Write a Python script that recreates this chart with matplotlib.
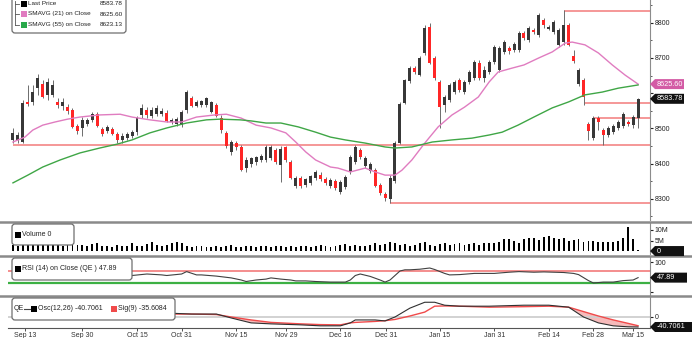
import numpy as np
import matplotlib
matplotlib.use("Agg")
import matplotlib.pyplot as plt
from matplotlib.patches import FancyBboxPatch, Rectangle, Polygon
from matplotlib.lines import Line2D
from matplotlib.transforms import IdentityTransform
from matplotlib.ticker import MultipleLocator

plt.rcParams['font.family'] = ['Liberation Sans', 'DejaVu Sans']

W, H = 692, 338

# daily candles, Sep 13 .. Mar 15
opens = [8467, 8467, 8461, 8575, 8575, 8614, 8626, 8595, 8595, 8575,
         8563, 8560, 8552, 8506, 8501, 8512, 8524, 8540, 8498, 8492,
         8498, 8484, 8467, 8472, 8478, 8489, 8538, 8552, 8535, 8540,
         8540, 8543, 8518, 8512, 8509, 8552, 8586, 8563, 8566, 8566,
         8546, 8566, 8529, 8487, 8433, 8458, 8447, 8387, 8398, 8404,
         8410, 8410, 8415, 8438, 8395, 8447, 8404, 8336, 8359, 8339,
         8344, 8359, 8367, 8356, 8336, 8350, 8319, 8333, 8376, 8404,
         8438, 8393, 8378, 8381, 8339, 8313, 8299, 8350, 8458, 8572,
         8634, 8671, 8651, 8714, 8788, 8700, 8632, 8566, 8580, 8603,
         8637, 8603, 8632, 8643, 8686, 8643, 8660, 8688, 8666, 8717,
         8728, 8722, 8722, 8771, 8751, 8779, 8765, 8808, 8782, 8774,
         8737, 8745, 8793, 8705, 8626, 8637, 8512, 8472, 8529, 8495,
         8481, 8489, 8501, 8506, 8518, 8509, 8529]
highs = [8501, 8489, 8580, 8623, 8623, 8654, 8637, 8643, 8637, 8586,
         8586, 8569, 8558, 8512, 8532, 8529, 8546, 8546, 8504, 8509,
         8504, 8489, 8487, 8489, 8495, 8535, 8569, 8560, 8560, 8566,
         8558, 8552, 8529, 8532, 8552, 8609, 8592, 8580, 8580, 8589,
         8578, 8572, 8538, 8492, 8467, 8464, 8452, 8418, 8418, 8421,
         8427, 8452, 8452, 8444, 8450, 8450, 8410, 8364, 8364, 8359,
         8367, 8381, 8376, 8361, 8359, 8356, 8353, 8367, 8424, 8452,
         8444, 8421, 8404, 8387, 8344, 8319, 8367, 8464, 8575, 8640,
         8677, 8677, 8705, 8793, 8799, 8705, 8637, 8595, 8629, 8637,
         8643, 8637, 8666, 8694, 8694, 8677, 8694, 8737, 8734, 8751,
         8734, 8745, 8777, 8777, 8791, 8785, 8828, 8814, 8793, 8808,
         8785, 8836, 8799, 8722, 8671, 8643, 8518, 8535, 8535, 8501,
         8506, 8512, 8524, 8546, 8524, 8538, 8586]
lows = [8458, 8458, 8458, 8563, 8566, 8595, 8586, 8580, 8589, 8558,
        8552, 8540, 8501, 8484, 8478, 8506, 8518, 8504, 8478, 8487,
        8481, 8458, 8458, 8467, 8472, 8481, 8529, 8529, 8529, 8535,
        8535, 8518, 8512, 8506, 8504, 8543, 8560, 8560, 8560, 8560,
        8543, 8532, 8487, 8444, 8424, 8438, 8378, 8376, 8390, 8395,
        8404, 8404, 8410, 8398, 8347, 8404, 8356, 8330, 8330, 8333,
        8339, 8353, 8350, 8339, 8330, 8324, 8313, 8327, 8370, 8398,
        8413, 8387, 8373, 8333, 8310, 8293, 8288, 8344, 8455, 8569,
        8629, 8654, 8649, 8708, 8683, 8637, 8501, 8546, 8575, 8597,
        8603, 8597, 8626, 8637, 8637, 8632, 8654, 8683, 8660, 8711,
        8711, 8717, 8717, 8751, 8745, 8768, 8760, 8785, 8779, 8768,
        8731, 8737, 8734, 8686, 8620, 8566, 8467, 8467, 8495, 8452,
        8475, 8484, 8495, 8501, 8506, 8501, 8501]
closes = [8487, 8481, 8572, 8569, 8603, 8643, 8589, 8632, 8623, 8566,
          8575, 8549, 8504, 8492, 8524, 8524, 8540, 8506, 8484, 8504,
          8484, 8467, 8478, 8484, 8489, 8529, 8558, 8538, 8552, 8558,
          8549, 8521, 8524, 8526, 8546, 8603, 8563, 8575, 8578, 8586,
          8575, 8535, 8495, 8450, 8461, 8447, 8381, 8410, 8415, 8418,
          8421, 8447, 8447, 8404, 8441, 8410, 8359, 8359, 8336, 8356,
          8364, 8376, 8356, 8344, 8353, 8330, 8347, 8361, 8418, 8447,
          8418, 8415, 8398, 8336, 8316, 8302, 8359, 8458, 8569, 8637,
          8671, 8660, 8700, 8785, 8686, 8643, 8560, 8589, 8623, 8632,
          8609, 8632, 8660, 8688, 8643, 8666, 8688, 8731, 8728, 8745,
          8720, 8739, 8771, 8757, 8785, 8774, 8822, 8793, 8788, 8802,
          8779, 8793, 8737, 8691, 8666, 8589, 8492, 8529, 8518, 8481,
          8501, 8506, 8518, 8540, 8512, 8532, 8583.78]
volume_m = [3.0, 2.6, 3.2, 2.9, 3.1, 2.7, 3.0, 2.8, 3.3, 2.9,
            2.6, 2.8, 3.1, 2.7, 3.0, 2.5, 3.4, 3.6, 2.2, 2.6,
            2.1, 3.0, 2.4, 2.3, 3.8, 2.5, 2.2, 3.5, 4.2, 2.7,
            2.4, 2.9, 3.6, 4.4, 3.9, 2.3, 2.0, 2.2, 2.6, 1.9,
            2.1, 2.4, 1.8, 2.3, 2.7, 2.0, 1.9, 2.4, 2.2, 1.8,
            2.3, 2.6, 1.9, 2.2, 2.5, 2.1, 2.4, 2.0, 2.6, 2.3,
            1.8, 2.5, 2.7, 2.2, 1.9, 2.4, 2.8, 3.3, 2.6, 3.0,
            2.4, 2.2, 3.1, 3.6, 2.7, 3.2, 4.1, 3.9, 2.8, 3.4,
            2.5, 3.0, 3.6, 4.2, 3.0, 2.6, 3.5, 3.8, 2.7, 3.2,
            3.6, 2.9, 3.4, 4.0, 3.1, 3.7, 3.8, 3.9, 4.3, 5.6,
            5.8, 5.0, 3.9, 5.5, 6.3, 6.1, 5.2, 6.5, 7.1, 6.2,
            5.6, 6.0, 4.9, 5.2, 5.8, 4.3, 4.6, 5.0, 4.4, 4.1,
            4.5, 4.3, 4.6, 6.2, 11.2, 5.8, 0.3]

# moving averages (day index, value)
sma21_x = [0, 2.4, 4, 6, 8.5, 11, 13.5, 17.5, 21.6, 24, 27.6, 31, 34, 37, 40.7,
           43, 46, 49, 52, 55, 57, 59, 61, 64, 65.5, 68, 71, 73, 75, 77,
           78.4, 80.4, 83, 85.7, 88.5, 91, 93.8, 96, 97.8, 100.6, 103, 106,
           108.7, 111.3, 112.7, 115.3, 118, 120.8, 123.4, 126]
sma21_y = [8461, 8475, 8495, 8509, 8518, 8526, 8532, 8538, 8540, 8532, 8524,
           8518, 8518, 8532, 8538, 8540, 8529, 8509, 8501, 8487, 8461, 8433,
           8410, 8390, 8387, 8376, 8387, 8376, 8367, 8367, 8381, 8410, 8458,
           8504, 8538, 8560, 8589, 8632, 8660, 8671, 8680, 8700, 8717, 8742,
           8745, 8737, 8714, 8680, 8651, 8625.60]
sma55_x = [0, 3, 6, 9.5, 13.5, 17.5, 21, 24, 27.6, 31, 35, 39, 41.7, 45.8, 48,
           51, 54, 57.5, 61, 64, 67, 71, 75, 77, 80.4, 84.5, 88.5, 92.5, 96,
           98.6, 101.8, 105, 108.7, 112, 115.3, 118.8, 122, 126]
sma55_y = [8345, 8367, 8390, 8410, 8430, 8444, 8455, 8467, 8487, 8501, 8515,
           8524, 8526, 8524, 8521, 8515, 8515, 8504, 8489, 8475, 8467, 8458,
           8447, 8444, 8447, 8461, 8467, 8472, 8481, 8489, 8509, 8532, 8558,
           8575, 8595, 8603, 8614, 8623.13]

rsi_x = [0, 3, 5, 8, 11, 14, 16, 19, 20, 23, 24, 27, 30, 31, 34, 35, 37, 38, 41,
         44, 46, 47, 49, 51, 52, 54, 56, 57, 59, 61, 64, 67, 68, 69, 70, 72, 74,
         75, 76, 77, 78, 79, 80, 82, 84, 85, 87, 88, 90, 93, 97, 100, 102, 105,
         107, 109, 111, 113, 114, 116, 117, 119, 121, 123, 125, 126]
rsi_y = [73, 66, 63, 58, 50, 55, 57, 50, 47, 47, 55, 60, 57, 55, 60, 68, 57, 57,
         53, 47, 40, 35, 40, 43, 47, 43, 40, 37, 37, 35, 33, 33, 40, 55, 60, 52,
         40, 33, 40, 55, 70, 74, 74, 76, 80, 75, 62, 57, 58, 62, 62, 66, 68, 66,
         67, 66, 65, 62, 58, 38, 30, 33, 33, 38, 40, 47.89]

macd_x = [0, 4, 11, 16, 21, 24, 31, 36, 41, 44, 48, 52, 58, 62, 66, 68, 69, 73,
          75, 77, 80, 83, 85, 87, 90, 96, 103, 108, 112, 115, 118, 121, 124, 126]
osc = [32, 24, 8, 0, 4, 12, 16, 12, 12, -4, -24, -28, -32, -36, -36, -24, -12,
       -12, -16, 0, 36, 60, 60, 48, 44, 44, 48, 48, 40, 0, -24, -36, -40, -40.7061]
sig = [32, 24, 12, 2, 4, 8, 12, 12, 10, 0, -12, -22, -28, -31, -32, -24, -22,
       -18, -15, -10, 4, 20, 44, 45, 44, 40, 42, 44, 40, 22, 4, -12, -26, -35.6084]

# support / resistance lines (price, first day)
lvl_price = [8452, 8288, 8834, 8572, 8529]
lvl_start = [0, 76, 111, 115, 117]

date_pos = [2.4, 14, 25, 34, 45, 55, 66, 75.2, 86, 97, 108, 117, 125]
date_lab = ['Sep 13', 'Sep 30', 'Oct 15', 'Oct 31', 'Nov 15', 'Nov 29',
            'Dec 16', 'Dec 31', 'Jan 15', 'Jan 31', 'Feb 14', 'Feb 28', 'Mar 15']

fig = plt.figure(figsize=(W / 100, H / 100), dpi=100, facecolor='white')


def px_axes(l, t, r, b):
    return fig.add_axes([l / W, 1 - b / H, (r - l) / W, (b - t) / H])


ax1 = px_axes(8, 0, 650, 220)
ax2 = px_axes(8, 223, 650, 254)
ax3 = px_axes(8, 257, 650, 295)
ax4 = px_axes(8, 297, 650, 328)

n = len(closes)
x = np.arange(n)
xmax = 128.4
up = [c >= o for o, c in zip(opens, closes)]
body_col = ['#383838' if u else '#ff2626' for u in up]

# price panel
ax1.hlines(lvl_price, lvl_start, xmax, colors='#f27a7a', lw=1.1, zorder=1)
ax1.vlines(x, lows, highs, colors='#6c6c6c', lw=0.7, zorder=2)
ax1.bar(x, np.abs(np.subtract(closes, opens)), bottom=np.minimum(opens, closes),
        width=0.6, color=body_col, zorder=3)
ax1.plot(sma21_x, sma21_y, color='#e07cc0', lw=1.0, zorder=4)
ax1.plot(sma55_x, sma55_y, color='#3fa646', lw=1.0, zorder=4)
ax1.set_ylim(8239.5, 8864.5)
ax1.set_yticks([8300, 8400, 8500, 8600, 8700, 8800])
ax1.set_yticklabels(['8300', '8400', '8500', '', '8700', '8800'])
ax1.yaxis.set_minor_locator(MultipleLocator(50))

# volume
ax2.bar(x, volume_m, width=0.38, color='black')
ax2.set_ylim(-1.4, 13.3)
ax2.set_yticks([5, 10])
ax2.set_yticklabels(['5M', '10M'])

# RSI
ax3.axhline(70, color='#f27a7a', lw=1.2)
ax3.axhline(30, color='#3cb043', lw=1.6)
ax3.plot(rsi_x, rsi_y, color='#404040', lw=0.8)
ax3.set_ylim(-10, 116.7)
ax3.set_yticks([0, 100])
ax3.set_yticklabels(['', '100'])

# MACD
ax4.axhline(0, color='#cfcfcf', lw=1.3)
ax4.fill_between(macd_x, osc, sig, where=np.array(osc) < np.array(sig),
                 interpolate=True, color='#f6baba', lw=0)
ax4.plot(macd_x, sig, color='#f04a4a', lw=1.0)
ax4.plot(macd_x, osc, color='#303030', lw=0.8)
ax4.set_ylim(-44.8, 81.4)
ax4.set_yticks([0])
ax4.set_yticklabels(['0'])

for ax in (ax1, ax2, ax3, ax4):
    ax.set_xlim(-1.0, xmax)
    ax.set_facecolor('white')
    for s in ('top', 'left', 'bottom'):
        ax.spines[s].set_visible(False)
    ax.spines['right'].set_color('#8c8c8c')
    ax.spines['right'].set_linewidth(0.8)
    ax.yaxis.tick_right()
    ax.tick_params(axis='y', which='major', direction='out', length=2.5, width=0.8,
                   pad=1, labelsize=5, colors='#222222')
    ax.tick_params(axis='y', which='minor', direction='out', length=1.5, width=0.6,
                   colors='#444444')
    ax.tick_params(axis='x', bottom=False, labelbottom=False)

ax4.spines['bottom'].set_visible(True)
ax4.spines['bottom'].set_color('#555555')
ax4.spines['bottom'].set_linewidth(0.8)
ax4.set_xticks(date_pos)
ax4.set_xticklabels(date_lab)
ax4.tick_params(axis='x', bottom=True, labelbottom=True, direction='out', length=2,
                width=0.6, pad=1, labelsize=5, colors='#333333')

# panel separators
for yy in (221.5, 255.5, 296):
    fig.add_artist(Line2D([0, 1], [1 - yy / H, 1 - yy / H], transform=fig.transFigure,
                          color='#8a8a8a', lw=1.8, zorder=3))


def tag(ax, v, s, fc, right=686):
    yd = ax.transData.transform((0, v))[1]
    pts = [(650, yd), (655, yd + 5), (right, yd + 5), (right, yd - 5), (655, yd - 5)]
    fig.add_artist(Polygon(pts, closed=True, transform=IdentityTransform(),
                           fc=fc, ec='none', zorder=5))
    fig.text(657 / W, yd / H, s, color='white', fontsize=5.2, va='center',
             ha='left', zorder=6)


tag(ax1, 8625.60, '8625.60', '#d35ba5', 684)
tag(ax1, 8583.78, '8583.78', '#111111', 684)
tag(ax2, 0, '0', '#111111', 684)
tag(ax3, 47.89, '47.89', '#111111', 687)
tag(ax4, -40.7061, '-40.7061', '#111111', 692)


def legend_box(l, t, r, b):
    fig.add_artist(FancyBboxPatch((l, H - b), r - l, b - t,
                                  boxstyle='round,pad=0,rounding_size=3',
                                  transform=IdentityTransform(), fc='white',
                                  ec='#6e6e6e', lw=0.9, zorder=7))


def square(xp, yp, c):
    fig.add_artist(Rectangle((xp, H - yp - 3), 6, 6, transform=IdentityTransform(),
                             fc=c, ec='none', zorder=8))


def label(xp, yp, s, ha='left', c='#222222', fs=5):
    fig.text(xp / W, 1 - yp / H, s, fontsize=fs, ha=ha, va='center', color=c, zorder=9)


# top-left legend
legend_box(12, -6, 126, 33)
fig.add_artist(Line2D([15, 15], [H - 1, H - 25], transform=IdentityTransform(),
                      color='#555555', lw=0.6, zorder=8))
for yy in (3.5, 14, 24.5):
    fig.add_artist(Line2D([15, 19], [H - yy, H - yy], transform=IdentityTransform(),
                          color='#555555', lw=0.6, zorder=8))
square(21, 3.5, 'black')
square(21, 14, '#e07cc0')
square(21, 24.5, '#29a84a')
label(28, 3.5, 'Last Price', fs=4.6)
label(28, 14, 'SMAVG (21) on Close', fs=4.6)
label(28, 24.5, 'SMAVG (55) on Close', fs=4.6)
label(123, 3.5, '8583.78', 'right', fs=4.6)
label(123, 14, '8625.60', 'right', fs=4.6)
label(123, 24.5, '8623.13', 'right', fs=4.6)

# volume legend
legend_box(12, 224, 74, 245)
square(15, 235, 'black')
label(22, 235, 'Volume 0')

# RSI legend
legend_box(12, 258, 132, 280)
square(15, 269, 'black')
label(22, 269, 'RSI (14) on Close (QE ) 47.89')

# MACD legend
legend_box(12, 298, 175, 320)
label(14, 309, 'QE')
fig.add_artist(Line2D([24, 31], [H - 309, H - 309], transform=IdentityTransform(),
                      color='#444444', lw=0.8, zorder=8))
square(31, 309, 'black')
label(38, 309, 'Osc(12,26) -40.7061')
square(111, 309, '#f04a4a')
label(118, 309, 'Sig(9) -35.6084')

fig.savefig('out.png', dpi=100, facecolor='white')
